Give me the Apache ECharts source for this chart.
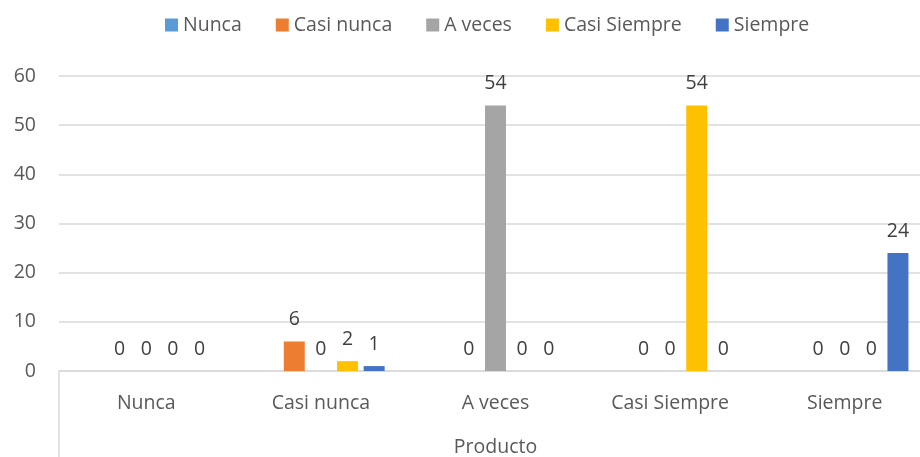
<!DOCTYPE html>
<html>
<head>
<meta charset="utf-8">
<script src="https://cdn.jsdelivr.net/npm/echarts@6/dist/echarts.min.js"></script>
<style>
  html, body { margin: 0; padding: 0; background: #fff; }
  #chart { width: 920px; height: 457px; }
</style>
</head>
<body>
<div id="chart"></div>
<script>
// categorias del eje x
const categories = ['Nunca', 'Casi nunca', 'A veces', 'Casi Siempre', 'Siempre']
// series (null = sin dato, no se dibuja etiqueta)
const nunca = [null, null, null, null, null]
const casiNunca = [0, 6, 0, 0, 0]
const aVeces = [0, 0, 54, 0, 0]
const casiSiempre = [0, 2, 0, 54, 0]
const siempre = [0, 1, 0, 0, 24]
const yTicks = [0, 10, 20, 30, 40, 50, 60]

const FONT = 'Open Sans'
const FS = 19.5
const colors = ['#5B9BD5', '#ED7D31', '#A5A5A5', '#FFC000', '#4472C4']

const chart = echarts.init(document.getElementById('chart'))

const mk = (name, data, i) => ({
    name: name,
    type: 'bar',
    data: data,
    itemStyle: { color: colors[i] },
    barGap: '27%',
    barCategoryGap: '27%',
    label: {
        show: true,
        position: 'top',
        distance: 12,
        color: '#404040',
        fontFamily: FONT,
        fontSize: FS
    }
})

const option = {
    animation: false,
    textStyle: { fontFamily: FONT },
    legend: {
        top: 10,
        left: 160,
        icon: 'rect',
        itemWidth: 13,
        itemHeight: 13,
        itemGap: 34,
        textStyle: { color: '#595959', fontSize: FS, fontFamily: FONT },
        data: ['Nunca', 'Casi nunca', 'A veces', 'Casi Siempre', 'Siempre']
    },
    grid: {
        left: 59,
        top: 76,
        bottom: 86,
        width: 873,
        outerBoundsMode: 'none'
    },
    xAxis: {
        type: 'category',
        data: categories,
        name: 'Producto',
        nameLocation: 'middle',
        nameGap: 66,
        nameTextStyle: { color: '#595959', fontSize: FS, fontFamily: FONT },
        axisLine: { lineStyle: { color: '#d9d9d9', width: 1.5 } },
        axisTick: {
            show: true,
            length: 90,
            interval: (i) => i === 0,
            lineStyle: { color: '#d9d9d9', width: 1.5 }
        },
        axisLabel: { color: '#595959', fontSize: FS, fontFamily: FONT, margin: 22 }
    },
    yAxis: {
        type: 'value',
        min: yTicks[0],
        max: yTicks[yTicks.length - 1],
        interval: 10,
        axisLine: { show: false },
        axisTick: { show: false },
        splitLine: { lineStyle: { color: '#d9d9d9', width: 1.5 } },
        axisLabel: { color: '#595959', fontSize: FS, fontFamily: FONT, margin: 23 }
    },
    series: [
        mk('Nunca', nunca, 0),
        mk('Casi nunca', casiNunca, 1),
        mk('A veces', aVeces, 2),
        mk('Casi Siempre', casiSiempre, 3),
        mk('Siempre', siempre, 4)
    ]
}

chart.setOption(option)
</script>
</body>
</html>
